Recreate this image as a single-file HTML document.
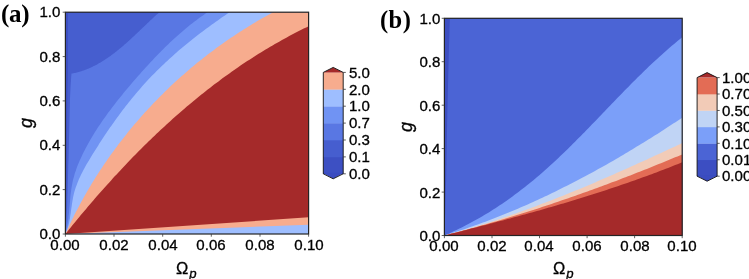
<!DOCTYPE html>
<html>
<head>
<meta charset="utf-8">
<title>Contour plots</title>
<style>
html,body{margin:0;padding:0;background:#fff;}
body{width:749px;height:279px;overflow:hidden;position:relative;font-family:"Liberation Sans",sans-serif;color:#111;}
svg{position:absolute;left:0;top:0;}
span{position:absolute;white-space:nowrap;line-height:1;will-change:transform;}
.t{font-size:13.9px;height:15px;line-height:15px;color:#000;-webkit-text-stroke:0.3px #000;}
.t.r{text-align:right;transform:scaleX(1.082);transform-origin:100% 50%;}
.t.l{text-align:left;transform:scaleX(1.082);transform-origin:0 50%;}
.t.c{width:60px;text-align:center;transform:scaleX(1.082);transform-origin:50% 50%;}
.pl{font-family:"Liberation Serif",serif;font-weight:bold;font-size:25px;letter-spacing:-0.3px;color:#000;}
.ax{font-size:16.5px;color:#000;-webkit-text-stroke:0.3px #000;}
.ax .sub{font-size:13.2px;position:relative;top:4.3px;left:0.9px;}
.ax.rot{transform:rotate(-90deg);transform-origin:50% 50%;font-size:18px;}
</style>
</head>
<body>
<svg width="749" height="279" viewBox="0 0 749 279">
<rect x="65.4" y="12.2" width="243.2" height="221.8" fill="#3d50c3"/>
<polygon points="65.4,234.0 65.5,231.2 65.6,228.4 65.6,225.6 65.7,222.8 65.8,220.0 65.8,217.2 65.9,214.4 66.0,211.5 66.1,208.7 66.1,205.9 66.2,203.1 66.2,200.3 66.3,197.5 66.4,194.7 66.4,191.9 66.5,189.1 66.5,186.3 66.5,183.5 66.6,180.7 66.6,177.9 66.7,175.0 66.7,172.2 66.7,169.4 66.8,166.6 66.8,163.8 66.8,161.0 66.8,158.2 66.9,155.4 66.9,152.6 66.9,149.8 66.9,147.0 67.0,144.2 67.0,141.4 67.0,138.5 67.0,135.7 67.0,132.9 67.1,130.1 67.1,127.3 67.1,124.5 67.1,121.7 67.1,118.9 67.2,116.1 67.2,113.3 67.2,110.5 67.3,107.7 67.3,104.9 67.3,102.0 67.4,99.2 67.4,96.4 67.4,93.6 67.5,90.8 67.6,88.0 67.6,85.2 67.7,82.4 67.8,79.6 67.8,76.8 67.9,74.0 67.9,71.2 67.9,68.4 67.9,65.6 67.9,62.7 67.9,59.9 67.9,57.1 68.0,54.3 68.0,51.5 68.0,48.7 68.0,45.9 68.0,43.1 68.0,40.3 68.0,37.5 68.0,34.7 68.0,31.9 68.0,29.0 68.0,26.2 68.0,23.4 68.0,20.6 68.0,17.8 68.0,15.0 68.0,12.2 308.6,12.2 308.6,234.0" fill="#465ecf"/>
<polygon points="65.4,234.0 65.7,229.9 66.1,225.8 66.3,221.7 66.6,217.6 66.8,213.5 67.0,209.4 67.2,205.2 67.3,201.1 67.4,197.0 67.6,192.9 67.7,188.8 67.8,184.7 67.9,180.6 68.0,176.4 68.1,172.3 68.2,168.2 68.3,164.1 68.5,160.0 68.6,155.9 68.7,151.7 68.8,147.6 68.9,143.5 69.0,139.4 69.1,135.3 69.2,131.2 69.3,127.1 69.4,122.9 69.5,118.8 69.6,114.7 69.7,110.6 69.8,106.5 69.9,102.4 70.0,98.3 70.2,94.1 70.4,90.0 70.6,85.9 70.9,81.8 71.1,77.7 71.5,73.6 72.4,73.4 73.3,73.3 74.2,73.1 75.1,72.9 76.0,72.7 76.9,72.4 77.8,72.2 78.6,72.0 79.5,71.7 80.4,71.5 81.2,71.2 82.1,70.9 83.0,70.6 83.8,70.4 84.7,70.0 85.5,69.7 86.3,69.4 87.2,69.1 88.0,68.7 88.8,68.4 89.7,68.0 90.5,67.7 91.3,67.3 92.1,66.9 92.9,66.5 93.8,66.1 94.6,65.7 95.4,65.3 96.2,64.9 97.0,64.5 97.8,64.0 98.5,63.6 99.3,63.1 100.1,62.7 100.9,62.2 101.7,61.7 102.4,61.3 103.2,60.8 104.0,60.3 104.8,59.8 105.5,59.3 106.3,58.8 107.0,58.3 107.8,57.8 108.5,57.3 109.3,56.7 110.0,56.2 110.8,55.7 111.5,55.1 112.3,54.6 113.0,54.0 113.7,53.5 114.5,52.9 115.2,52.3 115.9,51.8 116.7,51.2 117.4,50.6 118.1,50.0 118.8,49.4 119.5,48.8 120.2,48.3 121.0,47.7 121.7,47.1 122.4,46.5 123.1,45.9 123.8,45.2 124.5,44.6 125.2,44.0 125.9,43.4 126.6,42.8 127.3,42.2 128.0,41.5 128.7,40.9 129.4,40.3 130.1,39.7 130.7,39.0 131.4,38.4 132.1,37.8 132.8,37.1 133.5,36.5 134.2,35.9 134.8,35.2 135.5,34.6 136.2,33.9 136.9,33.3 137.5,32.7 138.2,32.0 138.9,31.4 139.6,30.8 140.2,30.1 140.9,29.5 141.6,28.8 142.2,28.2 142.9,27.6 143.6,26.9 144.2,26.3 144.9,25.7 145.6,25.0 146.2,24.4 146.9,23.8 147.5,23.1 148.2,22.5 148.9,21.9 149.5,21.3 150.2,20.6 150.8,20.0 151.5,19.4 152.2,18.8 152.8,18.2 153.5,17.6 154.1,16.9 154.8,16.3 155.5,15.7 156.1,15.1 156.8,14.5 157.4,14.0 158.1,13.4 158.7,12.8 159.4,12.2 308.6,12.2 308.6,234.0" fill="#5977e3"/>
<polygon points="65.4,234.0 66.0,231.8 66.5,229.6 67.0,227.3 67.4,225.1 67.7,222.8 68.1,220.5 68.4,218.2 68.6,215.9 68.9,213.7 69.1,211.4 69.3,209.1 69.5,206.8 69.7,204.5 69.9,202.2 70.1,199.9 70.3,197.6 70.5,195.3 70.8,193.0 71.1,190.7 71.4,188.5 71.8,186.2 72.2,184.0 72.6,181.8 73.1,179.6 73.7,177.4 74.3,175.2 74.9,173.0 75.7,170.9 76.4,168.7 77.2,166.6 78.0,164.5 78.9,162.4 79.8,160.3 80.8,158.2 81.7,156.2 82.7,154.1 83.7,152.1 84.8,150.0 85.8,148.0 86.9,146.0 88.0,144.0 89.1,142.0 90.2,140.0 91.4,138.0 92.6,136.1 93.8,134.1 95.0,132.1 96.2,130.2 97.4,128.3 98.7,126.3 100.0,124.4 101.3,122.5 102.6,120.6 103.9,118.7 105.2,116.9 106.6,115.0 107.9,113.1 109.3,111.3 110.7,109.4 112.1,107.6 113.5,105.7 114.9,103.9 116.3,102.1 117.7,100.3 119.2,98.5 120.6,96.7 122.1,94.9 123.5,93.1 125.0,91.3 126.5,89.5 128.0,87.8 129.5,86.0 131.0,84.3 132.4,82.5 133.9,80.8 135.5,79.0 137.0,77.3 138.5,75.6 140.0,73.9 141.5,72.1 143.0,70.4 144.6,68.7 146.1,67.0 147.6,65.4 149.2,63.7 150.7,62.0 152.3,60.4 153.8,58.7 155.4,57.1 157.0,55.4 158.6,53.8 160.2,52.2 161.8,50.5 163.4,48.9 165.0,47.3 166.6,45.8 168.3,44.2 169.9,42.6 171.6,41.1 173.2,39.5 174.9,38.0 176.6,36.4 178.3,34.9 180.0,33.4 181.8,31.9 183.5,30.4 185.2,29.0 187.0,27.5 188.8,26.1 190.6,24.6 192.4,23.2 194.2,21.8 196.1,20.4 197.9,19.0 199.8,17.6 201.7,16.2 203.6,14.9 205.5,13.5 207.4,12.2 308.6,12.2 308.6,234.0" fill="#7093f3"/>
<polygon points="65.4,234.0 66.3,231.8 67.2,229.5 67.9,227.2 68.5,224.9 69.1,222.6 69.5,220.3 70.0,217.9 70.3,215.5 70.7,213.2 71.0,210.8 71.3,208.4 71.7,206.0 72.0,203.7 72.4,201.3 72.8,199.0 73.2,196.7 73.7,194.4 74.3,192.1 75.0,189.8 75.7,187.6 76.5,185.4 77.3,183.2 78.2,181.0 79.1,178.8 80.1,176.7 81.1,174.6 82.2,172.4 83.3,170.3 84.4,168.2 85.6,166.1 86.7,164.1 88.0,162.0 89.2,159.9 90.4,157.9 91.7,155.8 92.9,153.8 94.2,151.8 95.5,149.7 96.8,147.7 98.1,145.7 99.3,143.6 100.7,141.6 102.0,139.6 103.3,137.6 104.6,135.6 106.0,133.6 107.3,131.6 108.7,129.6 110.0,127.6 111.4,125.7 112.8,123.7 114.2,121.7 115.6,119.8 117.0,117.8 118.4,115.9 119.8,114.0 121.3,112.1 122.7,110.1 124.2,108.2 125.6,106.3 127.1,104.5 128.6,102.6 130.1,100.7 131.6,98.8 133.1,97.0 134.6,95.2 136.2,93.3 137.7,91.5 139.3,89.7 140.8,87.9 142.4,86.1 144.0,84.3 145.6,82.6 147.2,80.8 148.8,79.1 150.5,77.3 152.1,75.6 153.8,73.9 155.5,72.2 157.1,70.5 158.8,68.9 160.5,67.2 162.3,65.5 164.0,63.9 165.7,62.3 167.5,60.7 169.2,59.0 171.0,57.4 172.7,55.9 174.5,54.3 176.3,52.7 178.1,51.1 179.9,49.6 181.8,48.1 183.6,46.5 185.4,45.0 187.3,43.5 189.1,42.0 191.0,40.5 192.8,39.0 194.7,37.5 196.6,36.1 198.5,34.6 200.4,33.1 202.3,31.7 204.2,30.3 206.1,28.8 208.0,27.4 210.0,26.0 211.9,24.6 213.9,23.2 215.8,21.8 217.8,20.4 219.7,19.0 221.7,17.6 223.7,16.3 225.6,14.9 227.6,13.6 229.6,12.2 308.6,12.2 308.6,234.0" fill="#9ebeff"/>
<polygon points="65.4,234.0 66.5,231.6 67.6,229.2 68.7,226.9 69.8,224.5 70.9,222.2 72.0,219.8 73.2,217.5 74.3,215.1 75.5,212.8 76.7,210.5 77.9,208.2 79.1,205.9 80.4,203.6 81.6,201.3 82.9,199.0 84.1,196.7 85.4,194.5 86.7,192.2 88.0,190.0 89.3,187.7 90.7,185.5 92.0,183.3 93.4,181.0 94.8,178.8 96.1,176.6 97.5,174.4 98.9,172.3 100.4,170.1 101.8,167.9 103.2,165.7 104.7,163.6 106.2,161.4 107.6,159.3 109.1,157.2 110.6,155.1 112.1,153.0 113.7,150.9 115.2,148.8 116.8,146.7 118.3,144.6 119.9,142.5 121.5,140.5 123.1,138.4 124.7,136.4 126.3,134.4 127.9,132.3 129.6,130.3 131.2,128.3 132.9,126.3 134.5,124.3 136.2,122.4 137.9,120.4 139.6,118.4 141.3,116.5 143.1,114.5 144.8,112.6 146.6,110.7 148.3,108.8 150.1,106.9 151.9,105.0 153.7,103.1 155.5,101.2 157.3,99.4 159.1,97.5 160.9,95.7 162.8,93.9 164.6,92.0 166.5,90.2 168.3,88.4 170.2,86.6 172.1,84.8 174.0,83.1 175.9,81.3 177.8,79.6 179.8,77.8 181.7,76.1 183.7,74.4 185.6,72.7 187.6,71.0 189.6,69.3 191.5,67.6 193.5,65.9 195.5,64.3 197.5,62.6 199.6,61.0 201.6,59.4 203.6,57.8 205.7,56.2 207.7,54.6 209.8,53.0 211.9,51.4 214.0,49.9 216.0,48.3 218.1,46.8 220.3,45.3 222.4,43.8 224.5,42.3 226.6,40.8 228.8,39.3 230.9,37.8 233.1,36.4 235.2,34.9 237.4,33.5 239.6,32.1 241.8,30.7 244.0,29.3 246.2,27.9 248.4,26.5 250.6,25.2 252.8,23.8 255.1,22.5 257.3,21.1 259.6,19.8 261.8,18.5 264.1,17.2 266.4,16.0 268.6,14.7 270.9,13.5 273.2,12.2 308.6,12.2 308.6,234.0" fill="#f7ac8e"/>
<polygon points="65.4,234.0 67.1,231.9 68.8,229.8 70.5,227.7 72.2,225.6 73.9,223.5 75.6,221.4 77.4,219.3 79.1,217.2 80.8,215.1 82.6,213.1 84.3,211.0 86.1,208.9 87.8,206.8 89.6,204.8 91.3,202.7 93.1,200.7 94.9,198.6 96.6,196.6 98.4,194.5 100.2,192.5 102.0,190.5 103.8,188.4 105.6,186.4 107.4,184.4 109.3,182.4 111.1,180.4 112.9,178.3 114.7,176.3 116.6,174.4 118.4,172.4 120.3,170.4 122.1,168.4 124.0,166.4 125.9,164.5 127.7,162.5 129.6,160.5 131.5,158.6 133.4,156.6 135.3,154.7 137.2,152.8 139.1,150.8 141.0,148.9 142.9,147.0 144.9,145.1 146.8,143.2 148.7,141.3 150.7,139.4 152.6,137.5 154.6,135.7 156.5,133.8 158.5,131.9 160.5,130.1 162.5,128.2 164.5,126.4 166.5,124.6 168.5,122.7 170.5,120.9 172.5,119.1 174.5,117.3 176.5,115.5 178.6,113.7 180.6,111.9 182.6,110.2 184.7,108.4 186.8,106.6 188.8,104.9 190.9,103.2 193.0,101.4 195.1,99.7 197.2,98.0 199.3,96.3 201.4,94.6 203.5,92.9 205.6,91.2 207.7,89.6 209.9,87.9 212.0,86.3 214.1,84.6 216.3,83.0 218.5,81.4 220.6,79.7 222.8,78.1 225.0,76.5 227.2,75.0 229.4,73.4 231.6,71.8 233.8,70.3 236.0,68.7 238.2,67.2 240.5,65.6 242.7,64.1 245.0,62.6 247.2,61.1 249.5,59.7 251.8,58.2 254.0,56.7 256.3,55.3 258.6,53.8 260.9,52.4 263.2,51.0 265.6,49.6 267.9,48.2 270.2,46.8 272.6,45.4 274.9,44.0 277.3,42.7 279.6,41.4 282.0,40.0 284.4,38.7 286.8,37.4 289.2,36.1 291.6,34.8 294.0,33.6 296.4,32.3 298.8,31.1 301.3,29.8 303.7,28.6 306.2,27.4 308.6,26.2 308.6,234.0" fill="#a52a2a"/>
<polygon points="65.4,234.0 308.6,217.3 308.6,234.0" fill="#f7ac8e"/>
<polygon points="65.4,234.0 308.6,224.8 308.6,234.0" fill="#9ebeff"/>
<rect x="444.4" y="18.3" width="237.8" height="217.2" fill="#3c4ec2"/>
<polygon points="444.4,235.5 444.5,232.8 444.6,230.0 444.7,227.3 444.8,224.5 444.9,221.8 445.0,219.0 445.1,216.3 445.2,213.5 445.3,210.8 445.4,208.0 445.5,205.3 445.5,202.5 445.6,199.8 445.7,197.0 445.7,194.3 445.8,191.5 445.9,188.8 445.9,186.0 446.0,183.3 446.1,180.5 446.1,177.8 446.2,175.0 446.2,172.3 446.3,169.5 446.3,166.8 446.4,164.0 446.4,161.3 446.5,158.5 446.5,155.8 446.6,153.0 446.6,150.3 446.7,147.5 446.7,144.8 446.8,142.0 446.8,139.3 446.9,136.5 446.9,133.8 447.0,131.0 447.0,128.3 447.1,125.5 447.1,122.8 447.2,120.0 447.3,117.3 447.3,114.5 447.4,111.8 447.4,109.0 447.5,106.3 447.6,103.5 447.6,100.8 447.7,98.0 447.8,95.3 447.8,92.5 447.9,89.8 448.0,87.0 448.0,84.3 448.1,81.5 448.2,78.8 448.2,76.0 448.3,73.3 448.4,70.5 448.5,67.8 448.5,65.0 448.6,62.3 448.7,59.5 448.7,56.8 448.8,54.0 448.9,51.3 449.0,48.5 449.0,45.8 449.1,43.0 449.2,40.3 449.3,37.5 449.4,34.8 449.5,32.0 449.5,29.3 449.6,26.5 449.7,23.8 449.8,21.0 449.9,18.3 682.2,18.3 682.2,235.5" fill="#4b64d5"/>
<polygon points="444.4,235.5 446.8,234.4 449.3,233.4 451.7,232.3 454.1,231.1 456.5,230.0 458.9,228.8 461.2,227.7 463.6,226.5 465.9,225.3 468.3,224.1 470.6,222.8 472.9,221.6 475.2,220.3 477.5,219.0 479.8,217.7 482.0,216.4 484.3,215.1 486.5,213.7 488.8,212.4 491.0,211.0 493.2,209.6 495.4,208.2 497.6,206.7 499.7,205.3 501.9,203.9 504.0,202.4 506.2,200.9 508.3,199.4 510.4,197.9 512.5,196.4 514.6,194.8 516.7,193.3 518.8,191.7 520.9,190.1 522.9,188.6 525.0,186.9 527.0,185.3 529.0,183.7 531.1,182.1 533.1,180.4 535.1,178.7 537.1,177.1 539.0,175.4 541.0,173.7 543.0,172.0 544.9,170.2 546.9,168.5 548.8,166.8 550.7,165.0 552.7,163.2 554.6,161.5 556.5,159.7 558.4,157.9 560.3,156.1 562.2,154.3 564.1,152.5 565.9,150.7 567.8,148.9 569.7,147.0 571.5,145.2 573.4,143.3 575.3,141.5 577.1,139.6 578.9,137.8 580.8,135.9 582.6,134.0 584.5,132.2 586.3,130.3 588.1,128.4 590.0,126.5 591.8,124.6 593.6,122.8 595.4,120.9 597.3,119.0 599.1,117.1 600.9,115.2 602.7,113.3 604.5,111.4 606.3,109.5 608.2,107.6 610.0,105.7 611.8,103.8 613.6,101.9 615.5,100.0 617.3,98.1 619.1,96.3 620.9,94.4 622.8,92.5 624.6,90.6 626.4,88.7 628.3,86.9 630.1,85.0 632.0,83.1 633.8,81.3 635.7,79.4 637.5,77.6 639.4,75.7 641.3,73.9 643.2,72.1 645.0,70.2 646.9,68.4 648.8,66.6 650.7,64.8 652.6,63.0 654.5,61.2 656.5,59.5 658.4,57.7 660.3,55.9 662.3,54.2 664.2,52.4 666.2,50.7 668.1,49.0 670.1,47.3 672.1,45.6 674.1,43.9 676.1,42.2 678.1,40.6 680.1,38.9 682.2,37.3 682.2,235.5" fill="#7b9ff9"/>
<polygon points="444.4,235.5 447.0,234.7 449.6,233.9 452.2,233.1 454.8,232.3 457.3,231.4 459.9,230.6 462.5,229.7 465.0,228.9 467.6,228.0 470.2,227.1 472.7,226.2 475.3,225.3 477.8,224.4 480.3,223.5 482.9,222.6 485.4,221.7 487.9,220.7 490.4,219.8 493.0,218.8 495.5,217.8 498.0,216.8 500.5,215.8 503.0,214.8 505.5,213.8 508.0,212.8 510.4,211.8 512.9,210.8 515.4,209.7 517.9,208.7 520.4,207.6 522.8,206.5 525.3,205.4 527.7,204.4 530.2,203.3 532.6,202.2 535.1,201.1 537.5,199.9 540.0,198.8 542.4,197.7 544.8,196.5 547.3,195.4 549.7,194.2 552.1,193.1 554.5,191.9 556.9,190.7 559.3,189.5 561.7,188.3 564.1,187.1 566.5,185.9 568.9,184.7 571.3,183.5 573.7,182.3 576.1,181.0 578.5,179.8 580.8,178.5 583.2,177.3 585.6,176.0 587.9,174.7 590.3,173.5 592.7,172.2 595.0,170.9 597.4,169.6 599.7,168.3 602.1,167.0 604.4,165.7 606.7,164.4 609.1,163.0 611.4,161.7 613.7,160.4 616.1,159.0 618.4,157.7 620.7,156.3 623.0,154.9 625.3,153.6 627.6,152.2 629.9,150.8 632.2,149.4 634.5,148.0 636.8,146.6 639.1,145.2 641.4,143.8 643.7,142.4 646.0,141.0 648.3,139.6 650.6,138.2 652.8,136.7 655.1,135.3 657.4,133.9 659.7,132.4 661.9,131.0 664.2,129.5 666.4,128.0 668.7,126.6 671.0,125.1 673.2,123.6 675.5,122.2 677.7,120.7 680.0,119.2 682.2,117.7 682.2,235.5" fill="#c0d4f5"/>
<polygon points="444.4,235.5 446.9,234.8 449.4,234.2 451.9,233.5 454.4,232.8 456.9,232.1 459.4,231.4 461.9,230.7 464.3,230.0 466.8,229.3 469.3,228.6 471.8,227.8 474.3,227.1 476.7,226.3 479.2,225.6 481.7,224.8 484.1,224.0 486.6,223.3 489.0,222.5 491.5,221.7 493.9,220.9 496.4,220.1 498.8,219.3 501.3,218.4 503.7,217.6 506.2,216.8 508.6,216.0 511.1,215.1 513.5,214.3 515.9,213.4 518.4,212.6 520.8,211.7 523.2,210.8 525.6,209.9 528.1,209.1 530.5,208.2 532.9,207.3 535.3,206.4 537.7,205.5 540.1,204.6 542.5,203.6 545.0,202.7 547.4,201.8 549.8,200.9 552.2,199.9 554.6,199.0 557.0,198.1 559.4,197.1 561.8,196.2 564.2,195.2 566.5,194.2 568.9,193.3 571.3,192.3 573.7,191.3 576.1,190.3 578.5,189.4 580.9,188.4 583.2,187.4 585.6,186.4 588.0,185.4 590.4,184.4 592.8,183.4 595.1,182.4 597.5,181.3 599.9,180.3 602.2,179.3 604.6,178.3 607.0,177.3 609.3,176.2 611.7,175.2 614.1,174.2 616.4,173.1 618.8,172.1 621.2,171.0 623.5,170.0 625.9,168.9 628.2,167.9 630.6,166.8 632.9,165.8 635.3,164.7 637.7,163.6 640.0,162.6 642.4,161.5 644.7,160.4 647.1,159.4 649.4,158.3 651.8,157.2 654.1,156.1 656.4,155.1 658.8,154.0 661.1,152.9 663.5,151.8 665.8,150.7 668.2,149.6 670.5,148.6 672.8,147.5 675.2,146.4 677.5,145.3 679.9,144.2 682.2,143.1 682.2,235.5" fill="#f2cbb7"/>
<polygon points="444.4,235.5 446.9,234.9 449.3,234.2 451.8,233.6 454.3,233.0 456.7,232.3 459.2,231.7 461.7,231.0 464.1,230.3 466.6,229.7 469.0,229.0 471.5,228.3 473.9,227.7 476.4,227.0 478.8,226.3 481.3,225.6 483.7,224.9 486.2,224.2 488.6,223.5 491.1,222.8 493.5,222.1 495.9,221.4 498.4,220.7 500.8,219.9 503.3,219.2 505.7,218.5 508.1,217.8 510.5,217.0 513.0,216.3 515.4,215.5 517.8,214.8 520.2,214.0 522.7,213.3 525.1,212.5 527.5,211.7 529.9,211.0 532.3,210.2 534.8,209.4 537.2,208.7 539.6,207.9 542.0,207.1 544.4,206.3 546.8,205.5 549.2,204.7 551.6,203.9 554.0,203.1 556.4,202.3 558.8,201.5 561.2,200.6 563.6,199.8 566.0,199.0 568.4,198.2 570.8,197.3 573.2,196.5 575.6,195.7 578.0,194.8 580.4,194.0 582.8,193.1 585.2,192.3 587.5,191.4 589.9,190.5 592.3,189.7 594.7,188.8 597.1,187.9 599.5,187.1 601.8,186.2 604.2,185.3 606.6,184.4 609.0,183.5 611.3,182.6 613.7,181.8 616.1,180.9 618.5,180.0 620.8,179.0 623.2,178.1 625.6,177.2 627.9,176.3 630.3,175.4 632.7,174.5 635.0,173.5 637.4,172.6 639.8,171.7 642.1,170.8 644.5,169.8 646.9,168.9 649.2,167.9 651.6,167.0 653.9,166.0 656.3,165.1 658.7,164.1 661.0,163.2 663.4,162.2 665.7,161.2 668.1,160.3 670.4,159.3 672.8,158.3 675.1,157.3 677.5,156.4 679.8,155.4 682.2,154.4 682.2,235.5" fill="#e36c55"/>
<polygon points="444.4,235.5 446.8,234.9 449.3,234.3 451.7,233.6 454.2,233.0 456.6,232.4 459.1,231.8 461.5,231.2 463.9,230.5 466.4,229.9 468.8,229.3 471.3,228.6 473.7,228.0 476.1,227.4 478.6,226.8 481.0,226.1 483.4,225.5 485.9,224.9 488.3,224.2 490.7,223.6 493.2,222.9 495.6,222.3 498.0,221.6 500.5,221.0 502.9,220.4 505.3,219.7 507.8,219.1 510.2,218.4 512.6,217.7 515.0,217.1 517.5,216.4 519.9,215.8 522.3,215.1 524.7,214.4 527.2,213.8 529.6,213.1 532.0,212.4 534.4,211.7 536.9,211.0 539.3,210.4 541.7,209.7 544.1,209.0 546.5,208.3 548.9,207.6 551.4,206.9 553.8,206.2 556.2,205.5 558.6,204.8 561.0,204.1 563.4,203.4 565.8,202.7 568.2,201.9 570.6,201.2 573.0,200.5 575.4,199.8 577.8,199.0 580.2,198.3 582.6,197.5 585.0,196.8 587.4,196.0 589.8,195.3 592.2,194.5 594.6,193.8 597.0,193.0 599.4,192.2 601.8,191.5 604.2,190.7 606.6,189.9 609.0,189.1 611.3,188.3 613.7,187.5 616.1,186.7 618.5,185.9 620.9,185.1 623.2,184.3 625.6,183.5 628.0,182.7 630.4,181.8 632.7,181.0 635.1,180.2 637.5,179.3 639.8,178.5 642.2,177.6 644.6,176.8 646.9,175.9 649.3,175.0 651.7,174.2 654.0,173.3 656.4,172.4 658.7,171.5 661.1,170.6 663.4,169.7 665.8,168.8 668.1,167.9 670.5,167.0 672.8,166.0 675.2,165.1 677.5,164.2 679.9,163.2 682.2,162.3 682.2,235.5" fill="#a52a2a"/>
<rect x="65.4" y="12.2" width="243.2" height="221.8" fill="none" stroke="#242424" stroke-width="1.2"/>
<rect x="444.4" y="18.3" width="237.8" height="217.2" fill="none" stroke="#242424" stroke-width="1.2"/>
<g stroke="#3a3a3a" stroke-width="0.8">
<line x1="65.4" y1="234.0" x2="65.4" y2="236.7"/>
<line x1="114.0" y1="234.0" x2="114.0" y2="236.7"/>
<line x1="162.7" y1="234.0" x2="162.7" y2="236.7"/>
<line x1="211.3" y1="234.0" x2="211.3" y2="236.7"/>
<line x1="260.0" y1="234.0" x2="260.0" y2="236.7"/>
<line x1="308.6" y1="234.0" x2="308.6" y2="236.7"/>
<line x1="62.7" y1="12.2" x2="65.4" y2="12.2"/>
<line x1="62.7" y1="56.6" x2="65.4" y2="56.6"/>
<line x1="62.7" y1="100.9" x2="65.4" y2="100.9"/>
<line x1="62.7" y1="145.3" x2="65.4" y2="145.3"/>
<line x1="62.7" y1="189.6" x2="65.4" y2="189.6"/>
<line x1="62.7" y1="234.0" x2="65.4" y2="234.0"/>
<line x1="444.4" y1="235.5" x2="444.4" y2="238.2"/>
<line x1="492.0" y1="235.5" x2="492.0" y2="238.2"/>
<line x1="539.5" y1="235.5" x2="539.5" y2="238.2"/>
<line x1="587.1" y1="235.5" x2="587.1" y2="238.2"/>
<line x1="634.6" y1="235.5" x2="634.6" y2="238.2"/>
<line x1="682.2" y1="235.5" x2="682.2" y2="238.2"/>
<line x1="441.7" y1="18.3" x2="444.4" y2="18.3"/>
<line x1="441.7" y1="61.7" x2="444.4" y2="61.7"/>
<line x1="441.7" y1="105.2" x2="444.4" y2="105.2"/>
<line x1="441.7" y1="148.6" x2="444.4" y2="148.6"/>
<line x1="441.7" y1="192.1" x2="444.4" y2="192.1"/>
<line x1="441.7" y1="235.5" x2="444.4" y2="235.5"/>
</g>
<rect x="323.3" y="156.90" width="19.9" height="17.20" fill="#3d50c3"/>
<rect x="323.3" y="140.00" width="19.9" height="17.20" fill="#465ecf"/>
<rect x="323.3" y="123.10" width="19.9" height="17.20" fill="#5977e3"/>
<rect x="323.3" y="106.20" width="19.9" height="17.20" fill="#7093f3"/>
<rect x="323.3" y="89.30" width="19.9" height="17.20" fill="#9ebeff"/>
<rect x="323.3" y="72.40" width="19.9" height="17.20" fill="#f7ac8e"/>
<rect x="323.3" y="172.80" width="19.9" height="1.00" fill="#3b4cc0"/>
<polygon points="323.3,72.4 333.2,67.4 343.2,72.4" fill="#a52a2a"/>
<polygon points="323.3,173.3 333.2,178.8 343.2,173.3" fill="#3b4cc0"/>
<polygon points="323.3,72.4 333.2,67.4 343.2,72.4 343.2,173.8 333.2,178.8 323.3,173.8" fill="none" stroke="#111" stroke-width="0.9" stroke-linejoin="miter"/>
<line x1="343.2" y1="173.80" x2="345.8" y2="173.80" stroke="#333" stroke-width="0.8"/>
<line x1="343.2" y1="156.90" x2="345.8" y2="156.90" stroke="#333" stroke-width="0.8"/>
<line x1="343.2" y1="140.00" x2="345.8" y2="140.00" stroke="#333" stroke-width="0.8"/>
<line x1="343.2" y1="123.10" x2="345.8" y2="123.10" stroke="#333" stroke-width="0.8"/>
<line x1="343.2" y1="106.20" x2="345.8" y2="106.20" stroke="#333" stroke-width="0.8"/>
<line x1="343.2" y1="89.30" x2="345.8" y2="89.30" stroke="#333" stroke-width="0.8"/>
<line x1="343.2" y1="72.40" x2="345.8" y2="72.40" stroke="#333" stroke-width="0.8"/>
<rect x="697.1" y="159.77" width="20.0" height="16.73" fill="#3c4ec2"/>
<rect x="697.1" y="143.33" width="20.0" height="16.73" fill="#4b64d5"/>
<rect x="697.1" y="126.90" width="20.0" height="16.73" fill="#7b9ff9"/>
<rect x="697.1" y="110.47" width="20.0" height="16.73" fill="#c0d4f5"/>
<rect x="697.1" y="94.03" width="20.0" height="16.73" fill="#f2cbb7"/>
<rect x="697.1" y="77.60" width="20.0" height="16.73" fill="#e36c55"/>
<rect x="697.1" y="175.20" width="20.0" height="1.00" fill="#3b4cc0"/>
<polygon points="697.1,77.6 707.1,72.6 717.1,77.6" fill="#a52a2a"/>
<polygon points="697.1,175.7 707.1,181.2 717.1,175.7" fill="#3b4cc0"/>
<polygon points="697.1,77.6 707.1,72.6 717.1,77.6 717.1,176.2 707.1,181.2 697.1,176.2" fill="none" stroke="#111" stroke-width="0.9" stroke-linejoin="miter"/>
<line x1="717.1" y1="176.20" x2="719.7" y2="176.20" stroke="#333" stroke-width="0.8"/>
<line x1="717.1" y1="159.77" x2="719.7" y2="159.77" stroke="#333" stroke-width="0.8"/>
<line x1="717.1" y1="143.33" x2="719.7" y2="143.33" stroke="#333" stroke-width="0.8"/>
<line x1="717.1" y1="126.90" x2="719.7" y2="126.90" stroke="#333" stroke-width="0.8"/>
<line x1="717.1" y1="110.47" x2="719.7" y2="110.47" stroke="#333" stroke-width="0.8"/>
<line x1="717.1" y1="94.03" x2="719.7" y2="94.03" stroke="#333" stroke-width="0.8"/>
<line x1="717.1" y1="77.60" x2="719.7" y2="77.60" stroke="#333" stroke-width="0.8"/>
</svg>
<span class="t r" style="right:688.9px;top:227.1px">0.0</span>
<span class="t r" style="right:688.9px;top:182.7px">0.2</span>
<span class="t r" style="right:688.9px;top:138.4px">0.4</span>
<span class="t r" style="right:688.9px;top:94.0px">0.6</span>
<span class="t r" style="right:688.9px;top:49.7px">0.8</span>
<span class="t r" style="right:688.9px;top:5.3px">1.0</span>
<span class="t r" style="right:309.0px;top:229.1px">0.0</span>
<span class="t r" style="right:309.0px;top:185.7px">0.2</span>
<span class="t r" style="right:309.0px;top:142.2px">0.4</span>
<span class="t r" style="right:309.0px;top:98.8px">0.6</span>
<span class="t r" style="right:309.0px;top:55.3px">0.8</span>
<span class="t r" style="right:309.0px;top:11.9px">1.0</span>
<span class="t c" style="left:35.3px;top:237.8px">0.00</span>
<span class="t c" style="left:83.9px;top:237.8px">0.02</span>
<span class="t c" style="left:132.6px;top:237.8px">0.04</span>
<span class="t c" style="left:181.2px;top:237.8px">0.06</span>
<span class="t c" style="left:229.9px;top:237.8px">0.08</span>
<span class="t c" style="left:278.5px;top:237.8px">0.10</span>
<span class="t c" style="left:414.3px;top:238.9px">0.00</span>
<span class="t c" style="left:461.9px;top:238.9px">0.02</span>
<span class="t c" style="left:509.4px;top:238.9px">0.04</span>
<span class="t c" style="left:557.0px;top:238.9px">0.06</span>
<span class="t c" style="left:604.5px;top:238.9px">0.08</span>
<span class="t c" style="left:652.1px;top:238.9px">0.10</span>
<span class="t l" style="left:349.2px;top:167.0px">0.0</span>
<span class="t l" style="left:349.2px;top:150.1px">0.1</span>
<span class="t l" style="left:349.2px;top:133.2px">0.3</span>
<span class="t l" style="left:349.2px;top:116.3px">0.7</span>
<span class="t l" style="left:349.2px;top:99.4px">1.0</span>
<span class="t l" style="left:349.2px;top:82.5px">2.0</span>
<span class="t l" style="left:349.2px;top:65.6px">5.0</span>
<span class="t l" style="left:721.6px;top:169.4px">0.00</span>
<span class="t l" style="left:721.6px;top:153.0px">0.01</span>
<span class="t l" style="left:721.6px;top:136.5px">0.10</span>
<span class="t l" style="left:721.6px;top:120.1px">0.30</span>
<span class="t l" style="left:721.6px;top:103.7px">0.50</span>
<span class="t l" style="left:721.6px;top:87.2px">0.70</span>
<span class="t l" style="left:721.6px;top:70.8px">1.00</span>
<span class="pl" style="left:1.0px;top:0.6px">(a)</span>
<span class="pl" style="left:380.3px;top:7.5px;font-size:24.5px;letter-spacing:0.45px">(b)</span>
<span class="ax" style="left:176.3px;top:259.5px">&Omega;<i class="sub">p</i></span>
<span class="ax" style="left:552.6px;top:259.9px">&Omega;<i class="sub">p</i></span>
<span class="ax rot" style="left:21.3px;top:114.0px"><i>g</i></span>
<span class="ax rot" style="left:400.8px;top:117.6px"><i>g</i></span>
</body>
</html>
